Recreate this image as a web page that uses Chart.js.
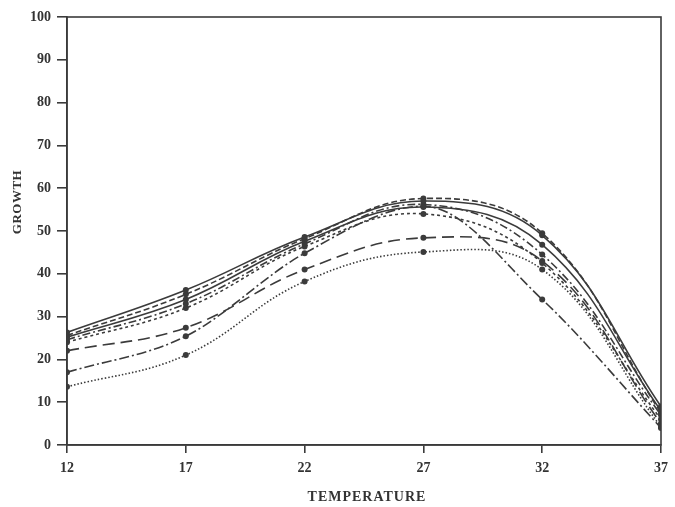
<!DOCTYPE html>
<html>
<head>
<meta charset="utf-8">
<script src="https://cdn.jsdelivr.net/npm/chart.js@4.4.1/dist/chart.umd.min.js"></script>
<style>
    html, body { margin: 0; padding: 0; background: #fff; }
    #wrap { width: 675px; height: 507px; position: relative; }
</style>
</head>
<body>
<div id="wrap"><canvas id="chart"></canvas></div>
<script>
// Data
const temps = [12, 17, 22, 27, 32, 37];
const xTicks = [12, 17, 22, 27, 32, 37];
const yTicks = [0, 10, 20, 30, 40, 50, 60, 70, 80, 90, 100];

const solidA    = [26.3, 36.2, 48.6, 57.0, 49.0, 9.0];
const solidB    = [25.2, 34.0, 47.6, 55.6, 46.8, 8.0];
const dashTop   = [25.6, 35.2, 48.2, 57.6, 49.5, 7.5];
const dashDotA  = [24.6, 33.0, 47.0, 56.2, 44.5, 7.0];
const shortDash = [24.0, 32.0, 46.4, 54.0, 42.5, 6.0];
const longDash  = [22.0, 27.4, 41.0, 48.4, 43.0, 5.0];
const dashDotB  = [17.0, 25.4, 44.8, 55.8, 34.0, 4.0];
const dotted    = [13.6, 21.0, 38.2, 45.1, 41.0, 4.2];

const INK = '#3b3b3b';
const SERIF = '"Liberation Serif", serif';

function series(values, dash, mode) {
    return {
        data: values.map((v, i) => ({ x: temps[i], y: v })),
        borderColor: INK,
        backgroundColor: INK,
        borderWidth: 1.6,
        borderDash: dash,
        pointRadius: 3,
        pointBorderWidth: 0,
        tension: 0.4,
        cubicInterpolationMode: mode || 'default',
        fill: false
    };
}

// рамка вокруг области графика и подписи осей
const framePlugin = {
    id: 'frame',
    afterDraw(chart) {
        const { ctx, chartArea: a } = chart;
        ctx.save();
        ctx.strokeStyle = INK;
        ctx.lineWidth = 1.6;
        ctx.strokeRect(a.left, a.top, a.right - a.left, a.bottom - a.top);

        ctx.fillStyle = '#333';
        ctx.textAlign = 'center';
        ctx.textBaseline = 'middle';
        ctx.font = `bold 14px ${SERIF}`;
        ctx.letterSpacing = '1px';
        ctx.fillText('TEMPERATURE', 367, 497);

        ctx.font = `bold 13px ${SERIF}`;
        ctx.letterSpacing = '0.5px';
        ctx.translate(18, 202);
        ctx.rotate(-Math.PI / 2);
        ctx.fillText('GROWTH', 0, 0);
        ctx.restore();
    }
};

new Chart(document.getElementById('chart'), {
    type: 'line',
    data: {
        datasets: [
            series(solidA, []),
            series(solidB, []),
            series(dashTop, [6, 3]),
            series(dashDotA, [8, 3, 2, 3]),
            series(shortDash, [3, 3]),
            series(longDash, [12, 6]),
            series(dashDotB, [10, 3, 2, 3], 'monotone'),
            series(dotted, [1.5, 2])
        ]
    },
    options: {
        responsive: true,
        maintainAspectRatio: false,
        animation: false,
        layout: { padding: { top: 17, right: 6, left: 0, bottom: 0 } },
        plugins: { legend: { display: false }, tooltip: { enabled: false } },
        scales: {
            x: {
                type: 'linear',
                min: 12,
                max: 37,
                afterBuildTicks: s => { s.ticks = xTicks.map(v => ({ value: v })); },
                afterFit: s => { s.height = 62; },
                grid: { drawOnChartArea: false, tickLength: 8, color: INK, lineWidth: 1.6 },
                border: { color: INK, width: 1.6 },
                ticks: {
                    color: '#333',
                    padding: 7,
                    maxRotation: 0,
                    font: { family: SERIF, size: 14, weight: 'bold' }
                }
            },
            y: {
                min: 0,
                max: 100,
                afterBuildTicks: s => { s.ticks = yTicks.map(v => ({ value: v })); },
                afterFit: s => { s.width = 67; },
                grid: { drawOnChartArea: false, tickLength: 10, color: INK, lineWidth: 1.6 },
                border: { color: INK, width: 1.6 },
                ticks: {
                    color: '#333',
                    padding: 6,
                    font: { family: SERIF, size: 14, weight: 'bold' }
                }
            }
        }
    },
    plugins: [framePlugin]
});
</script>
</body>
</html>
